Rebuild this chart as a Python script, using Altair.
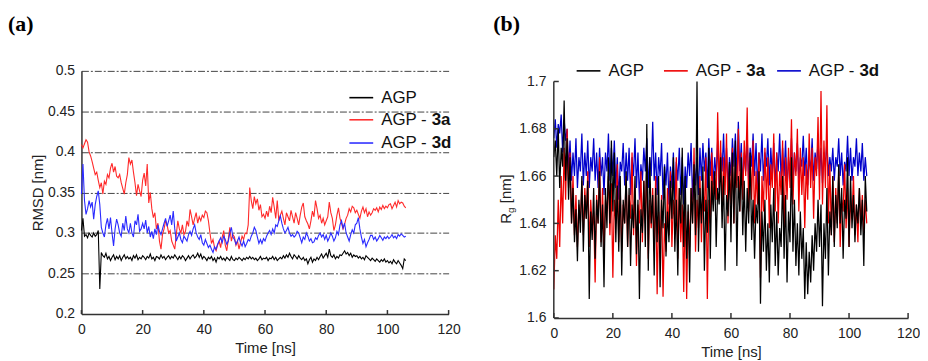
import altair as alt
import pandas as pd

time_step = 0.5

rmsd_3a = [
    .409, .405, .410, .415, .412, .400, .395, .388, .380, .372,
    .375, .365, .356, .362, .348, .364, .360, .372, .368, .380,
    .386, .375, .382, .370, .368, .372, .362, .355, .348, .362,
    .372, .393, .385, .390, .375, .362, .346, .360, .352, .345,
    .365, .374, .358, .385, .337, .350, .330, .319, .325, .305,
    .312, .290, .280, .298, .305, .315, .310, .300, .303, .290,
    .285, .280, .298, .315, .305, .300, .310, .298, .302, .315,
    .308, .329, .320, .310, .318, .325, .312, .320, .315, .322,
    .319, .327, .325, .315, .300, .287, .292, .282, .278, .285,
    .290, .282, .295, .303, .285, .278, .292, .307, .290, .298,
    .295, .285, .290, .280, .288, .296, .292, .300, .299, .310,
    .356, .340, .330, .345, .336, .342, .328, .335, .320, .323,
    .318, .327, .320, .333, .325, .344, .332, .318, .340, .315,
    .322, .327, .318, .310, .325, .320, .315, .328, .320, .312,
    .325, .318, .310, .322, .332, .337, .320, .315, .311, .305,
    .315, .327, .320, .340, .330, .318, .322, .312, .318, .310,
    .315, .320, .338, .325, .318, .303, .310, .322, .331, .318,
    .312, .305, .311, .318, .322, .330, .326, .333, .331, .325,
    .328, .323, .318, .327, .332, .325, .330, .320, .326, .322,
    .325, .330, .328, .331, .326, .332, .329, .334, .330, .333,
    .331, .335, .336, .330, .334, .338, .332, .340, .336, .338,
    .337, .333, .331,
]

rmsd_3d = [
    .348, .385, .340, .323, .330, .340, .332, .338, .317, .335,
    .345, .352, .335, .307, .300, .295, .310, .318, .305, .319,
    .300, .284, .305, .317, .310, .300, .296, .312, .303, .321,
    .305, .300, .312, .300, .295, .315, .310, .323, .302, .305,
    .312, .305, .316, .300, .308, .295, .302, .293, .305, .298,
    .310, .302, .298, .305, .312, .318, .308, .315, .322, .310,
    .327, .305, .290, .295, .300, .292, .288, .296, .293, .290,
    .298, .302, .297, .305, .310, .300, .295, .292, .298, .288,
    .285, .292, .287, .282, .285, .280, .276, .283, .280, .286,
    .290, .294, .288, .296, .292, .286, .290, .300, .307, .295,
    .292, .286, .290, .295, .288, .284, .290, .283, .287, .292,
    .290, .296, .300, .307, .303, .295, .287, .292, .287, .293,
    .290, .296, .300, .303, .298, .305, .300, .310, .308, .315,
    .321, .312, .305, .300, .303, .307, .300, .296, .298, .295,
    .297, .302, .300, .294, .288, .295, .292, .300, .296, .290,
    .293, .288, .289, .294, .292, .297, .300, .295, .298, .292,
    .297, .290, .294, .300, .296, .290, .294, .302, .298, .310,
    .315, .306, .312, .300, .295, .290, .298, .304, .300, .310,
    .312, .319, .305, .295, .287, .292, .283, .288, .292, .297,
    .297, .292, .295, .290, .293, .297, .294, .291, .295, .293,
    .296, .293, .295, .298, .294, .296, .293, .298, .296, .299,
    .297, .295, .296,
]

rmsd_agp = [
    .303, .318, .296, .298, .294, .300, .297, .295, .300, .296,
    .298, .303, .231, .276, .272, .270, .275, .268, .271, .266,
    .270, .273, .267, .271, .268, .272, .266, .270, .273, .268,
    .271, .268, .270, .266, .272, .269, .273, .267, .270, .268,
    .272, .270, .267, .271, .269, .274, .268, .270, .266, .271,
    .270, .268, .273, .269, .271, .267, .270, .272, .268, .271,
    .269, .273, .270, .267, .271, .268, .272, .270, .266, .269,
    .272, .268, .271, .273, .269, .271, .275, .270, .274, .268,
    .271, .269, .266, .270, .268, .271, .266, .269, .264, .270,
    .268, .271, .267, .269, .266, .270, .268, .266, .271, .267,
    .266, .269, .267, .270, .268, .266, .269, .267, .270, .268,
    .271, .268, .270, .267, .269, .266, .268, .271, .267, .269,
    .268, .270, .266, .269, .268, .271, .267, .270, .266, .268,
    .270, .268, .272, .269, .273, .270, .275, .271, .268, .273,
    .271, .268, .272, .269, .267, .270, .266, .268, .262, .267,
    .270, .264, .268, .266, .270, .267, .271, .274, .269, .272,
    .275, .270, .280, .272, .270, .273, .268, .271, .269, .273,
    .272, .275, .278, .274, .276, .272, .275, .270, .273, .271,
    .272, .269, .271, .268, .270, .267, .272, .270, .268, .266,
    .269, .267, .265, .268, .266, .264, .267, .265, .268, .264,
    .266, .263, .265, .262, .267, .264, .262, .266, .263, .260,
    .256, .268, .266,
]

rg_agp = [
    1.668, 1.675, 1.660, 1.680, 1.655, 1.672, 1.664, 1.692, 1.658, 1.676,
    1.650, 1.668, 1.640, 1.655, 1.632, 1.646, 1.624, 1.650, 1.636, 1.660,
    1.628, 1.652, 1.642, 1.658, 1.608, 1.645, 1.633, 1.655, 1.625, 1.650,
    1.640, 1.662, 1.630, 1.648, 1.613, 1.655, 1.638, 1.668, 1.640, 1.675,
    1.645, 1.670, 1.632, 1.656, 1.628, 1.660, 1.618, 1.650, 1.640, 1.662,
    1.630, 1.655, 1.622, 1.648, 1.638, 1.660, 1.627, 1.650, 1.608, 1.646,
    1.636, 1.658, 1.630, 1.682, 1.620, 1.668, 1.640, 1.652, 1.618, 1.655,
    1.632, 1.660, 1.613, 1.650, 1.638, 1.664, 1.626, 1.645, 1.632, 1.658,
    1.642, 1.668, 1.628, 1.650, 1.618, 1.655, 1.640, 1.672, 1.630, 1.660,
    1.625, 1.648, 1.615, 1.655, 1.640, 1.665, 1.635, 1.700, 1.628, 1.655,
    1.640, 1.664, 1.620, 1.650, 1.636, 1.672, 1.625, 1.658, 1.645, 1.662,
    1.630, 1.655, 1.648, 1.668, 1.638, 1.660, 1.620, 1.652, 1.643, 1.666,
    1.632, 1.670, 1.640, 1.675, 1.622, 1.660, 1.645, 1.668, 1.635, 1.658,
    1.628, 1.655, 1.640, 1.670, 1.633, 1.650, 1.625, 1.648, 1.640, 1.662,
    1.606, 1.645, 1.628, 1.650, 1.620, 1.640, 1.615, 1.648, 1.632, 1.655,
    1.622, 1.645, 1.618, 1.638, 1.630, 1.660, 1.625, 1.652, 1.615, 1.645,
    1.632, 1.668, 1.628, 1.650, 1.622, 1.640, 1.618, 1.645, 1.625, 1.638,
    1.608, 1.632, 1.610, 1.628, 1.615, 1.635, 1.620, 1.640, 1.628, 1.650,
    1.630, 1.648, 1.605, 1.640, 1.625, 1.655, 1.618, 1.645, 1.635, 1.660,
    1.630, 1.652, 1.638, 1.665, 1.640, 1.655, 1.625, 1.650, 1.642, 1.668,
    1.630, 1.660, 1.638, 1.652, 1.632, 1.648, 1.640, 1.655, 1.635, 1.650,
    1.622, 1.660, 1.645,
]

rg_3a = [
    1.612, 1.635, 1.625, 1.650, 1.630, 1.660, 1.640, 1.672, 1.650, 1.680,
    1.655, 1.670, 1.640, 1.660, 1.635, 1.652, 1.630, 1.648, 1.640, 1.658,
    1.635, 1.655, 1.642, 1.662, 1.630, 1.650, 1.638, 1.645, 1.615, 1.652,
    1.640, 1.668, 1.632, 1.655, 1.628, 1.650, 1.645, 1.660, 1.635, 1.657,
    1.617, 1.650, 1.640, 1.665, 1.632, 1.655, 1.628, 1.648, 1.640, 1.660,
    1.630, 1.652, 1.642, 1.670, 1.635, 1.655, 1.622, 1.648, 1.640, 1.662,
    1.632, 1.658, 1.640, 1.665, 1.625, 1.650, 1.638, 1.655, 1.628, 1.660,
    1.610, 1.645, 1.630, 1.652, 1.609, 1.640, 1.628, 1.655, 1.635, 1.662,
    1.630, 1.650, 1.640, 1.668, 1.625, 1.655, 1.632, 1.648, 1.611, 1.650,
    1.608, 1.645, 1.630, 1.655, 1.640, 1.672, 1.628, 1.650, 1.638, 1.660,
    1.632, 1.655, 1.645, 1.668, 1.608, 1.650, 1.640, 1.670, 1.648, 1.662,
    1.650, 1.687, 1.655, 1.675, 1.645, 1.668, 1.652, 1.678, 1.640, 1.665,
    1.648, 1.672, 1.640, 1.665, 1.655, 1.680, 1.645, 1.670, 1.650, 1.675,
    1.660, 1.689, 1.645, 1.668, 1.650, 1.675, 1.640, 1.662, 1.648, 1.670,
    1.617, 1.660, 1.645, 1.672, 1.650, 1.668, 1.638, 1.665, 1.655, 1.678,
    1.645, 1.670, 1.640, 1.662, 1.652, 1.675, 1.635, 1.668, 1.650, 1.672,
    1.655, 1.684, 1.648, 1.670, 1.660, 1.680, 1.645, 1.672, 1.652, 1.668,
    1.638, 1.665, 1.650, 1.678, 1.655, 1.672, 1.642, 1.668, 1.660, 1.685,
    1.650, 1.696, 1.648, 1.675, 1.655, 1.690, 1.640, 1.665, 1.635, 1.660,
    1.632, 1.655, 1.640, 1.662, 1.630, 1.650, 1.645, 1.665, 1.638, 1.655,
    1.630, 1.650, 1.642, 1.660, 1.635, 1.648, 1.632, 1.655, 1.640, 1.652,
    1.636, 1.650, 1.640,
]

rg_3d = [
    1.676, 1.684, 1.672, 1.682, 1.678, 1.686, 1.670, 1.684, 1.675, 1.680,
    1.662, 1.675, 1.658, 1.670, 1.660, 1.676, 1.655, 1.668, 1.662, 1.678,
    1.656, 1.670, 1.660, 1.675, 1.655, 1.668, 1.662, 1.676, 1.658, 1.670,
    1.655, 1.672, 1.660, 1.668, 1.652, 1.670, 1.662, 1.678, 1.658, 1.672,
    1.660, 1.675, 1.655, 1.668, 1.650, 1.666, 1.662, 1.674, 1.656, 1.670,
    1.658, 1.672, 1.652, 1.668, 1.660, 1.676, 1.655, 1.670, 1.650, 1.665,
    1.658, 1.672, 1.662, 1.676, 1.655, 1.668, 1.660, 1.683, 1.658, 1.670,
    1.652, 1.668, 1.660, 1.674, 1.650, 1.665, 1.656, 1.670, 1.648, 1.664,
    1.655, 1.670, 1.650, 1.666, 1.658, 1.672, 1.652, 1.668, 1.648, 1.664,
    1.655, 1.670, 1.660, 1.674, 1.650, 1.666, 1.656, 1.668, 1.652, 1.672,
    1.658, 1.674, 1.662, 1.670, 1.655, 1.676, 1.660, 1.672, 1.656, 1.668,
    1.660, 1.675, 1.654, 1.670, 1.662, 1.678, 1.658, 1.672, 1.655, 1.668,
    1.660, 1.676, 1.664, 1.678, 1.658, 1.683, 1.662, 1.674, 1.656, 1.670,
    1.662, 1.676, 1.658, 1.672, 1.664, 1.678, 1.660, 1.674, 1.655, 1.670,
    1.662, 1.678, 1.658, 1.670, 1.664, 1.676, 1.656, 1.672, 1.660, 1.674,
    1.655, 1.670, 1.662, 1.678, 1.658, 1.672, 1.660, 1.675, 1.654, 1.668,
    1.660, 1.676, 1.656, 1.670, 1.662, 1.674, 1.658, 1.668, 1.664, 1.677,
    1.660, 1.672, 1.656, 1.668, 1.662, 1.676, 1.658, 1.670, 1.663, 1.675,
    1.660, 1.672, 1.657, 1.670, 1.664, 1.675, 1.660, 1.668, 1.662, 1.672,
    1.658, 1.668, 1.664, 1.676, 1.660, 1.670, 1.656, 1.666, 1.662, 1.677,
    1.660, 1.672, 1.658, 1.668, 1.664, 1.676, 1.660, 1.670, 1.662, 1.674,
    1.658, 1.668, 1.660,
]

x_ticks = [0, 20, 40, 60, 80, 100, 120]
rmsd_ticks = [0.2, 0.25, 0.3, 0.35, 0.4, 0.45, 0.5]
rg_ticks = [1.6, 1.62, 1.64, 1.66, 1.68, 1.7]

# ---------------- styling ----------------
FONT = "Liberation Sans"
SERIF = "Liberation Serif"
W_A, H_A = 370, 245
W_B, H_B = 357, 249
RG_TOP = 1.6 + 0.1 * H_B / 238.3  # plot area extends a bit above 1.7 (legend lives there)
LABEL_SIZE = 14
TITLE_SIZE = 15


def frame(name, values):
    return pd.DataFrame({"Time": [i * time_step for i in range(len(values))], name: values})


one = pd.DataFrame({"k": [0]})

x_axis = alt.Axis(values=x_ticks, title="Time [ns]", grid=False, ticks=False, tickSize=0,
                  labelPadding=9, titlePadding=4, domainColor="#333", domainWidth=1.5,
                  labelFlush=False, labelOverlap=False)
x_scale = alt.Scale(domain=[0, 120], nice=False, zero=False)


def X():
    return alt.X("Time:Q", scale=x_scale, axis=x_axis)


y_axis_a = alt.Axis(values=rmsd_ticks, format=".2~f", title="RMSD [nm]", grid=True,
                    gridDash=[7, 2, 2, 2], gridColor="#444", gridWidth=1, gridOpacity=1,
                    ticks=False, tickSize=0, labelPadding=7, titlePadding=2,
                    domainColor="#333", domainWidth=1.5, labelOverlap=False)
y_scale_a = alt.Scale(domain=[0.2, 0.5], nice=False, zero=False)


def YA():
    return alt.Y("RMSD:Q", scale=y_scale_a, axis=y_axis_a)


y_axis_b = alt.Axis(values=rg_ticks, format=".2~f", title=None, grid=False, domain=False,
                    ticks=False, tickSize=0, labelPadding=8, labelOverlap=False)
y_scale_b = alt.Scale(domain=[1.6, RG_TOP], nice=False, zero=False)


def YB():
    return alt.Y("Rg:Q", scale=y_scale_b, axis=y_axis_b)


def legend_layers(xl, y, color, normal, bold=None):
    out = [
        alt.Chart(one).mark_rule(color=color, strokeWidth=1.6).encode(
            x=alt.value(xl), x2=alt.value(xl + 24), y=alt.value(y)),
        alt.Chart(one).mark_text(align="left", baseline="middle", font=FONT, fontSize=17,
                                 color="#111", text=normal).encode(
            x=alt.value(xl + 32), y=alt.value(y)),
    ]
    if bold:
        out.append(alt.Chart(one).mark_text(align="left", baseline="middle", font=FONT,
                                            fontSize=17, fontWeight="bold", color="#111",
                                            text=bold).encode(
            x=alt.value(xl + 32 + 51), y=alt.value(y)))
    return out


# ---------------- panel (a): RMSD ----------------
a_layers = [
    alt.Chart(frame("RMSD", rmsd_3a)).mark_line(color="#ff2a2a", strokeWidth=1.1).encode(x=X(), y=YA()),
    alt.Chart(frame("RMSD", rmsd_3d)).mark_line(color="#2a2aff", strokeWidth=1.1).encode(x=X(), y=YA()),
    alt.Chart(frame("RMSD", rmsd_agp)).mark_line(color="#000000", strokeWidth=1.1).encode(x=X(), y=YA()),
    alt.Chart(pd.DataFrame({"Time": x_ticks})).mark_rule(color="#333", strokeWidth=1.5).encode(
        x=X(), y=alt.value(H_A), y2=alt.value(H_A - 4)),
    alt.Chart(one).mark_text(align="left", baseline="middle", font=SERIF, fontSize=22,
                             fontWeight="bold", color="#000", text="(a)").encode(
        x=alt.value(-74), y=alt.value(-47)),
]
a_layers += legend_layers(270, 27, "#000000", "AGP")
a_layers += legend_layers(270, 49.3, "#ff3030", "AGP - ", "3a")
a_layers += legend_layers(270, 72.7, "#3030ff", "AGP - ", "3d")
panel_a = alt.layer(*a_layers).properties(width=W_A, height=H_A)

# ---------------- panel (b): Rg ----------------
b_layers = [
    alt.Chart(frame("Rg", rg_3d)).mark_line(color="#0000cc", strokeWidth=1.25).encode(x=X(), y=YB()),
    alt.Chart(frame("Rg", rg_3a)).mark_line(color="#ee0000", strokeWidth=1.25).encode(x=X(), y=YB()),
    alt.Chart(frame("Rg", rg_agp)).mark_line(color="#000000", strokeWidth=1.25).encode(x=X(), y=YB()),
    # y axis line from 1.6 to 1.7
    alt.Chart(pd.DataFrame({"Rg": [rg_ticks[0]], "Rg2": [rg_ticks[-1]]})).mark_rule(
        color="#333", strokeWidth=1.5).encode(x=alt.value(0), y=YB(), y2="Rg2:Q"),
    alt.Chart(pd.DataFrame({"Rg": rg_ticks})).mark_rule(color="#333", strokeWidth=1.5).encode(
        y=YB(), x=alt.value(0), x2=alt.value(5)),
    alt.Chart(pd.DataFrame({"Time": x_ticks})).mark_rule(color="#333", strokeWidth=1.5).encode(
        x=X(), y=alt.value(H_B), y2=alt.value(H_B - 5)),
    alt.Chart(one).mark_text(align="left", baseline="middle", font=SERIF, fontSize=22,
                             fontWeight="bold", color="#000", text="(b)").encode(
        x=alt.value(-61), y=alt.value(-47)),
    # y-axis title R_g [nm]
    alt.Chart(one).mark_text(align="left", baseline="alphabetic", angle=270, font=FONT,
                             fontSize=15, color="#222", text="R").encode(
        x=alt.value(-43), y=alt.value(154)),
    alt.Chart(one).mark_text(align="left", baseline="alphabetic", angle=270, font=FONT,
                             fontSize=10, color="#222", text="g").encode(
        x=alt.value(-40), y=alt.value(143.2)),
    alt.Chart(one).mark_text(align="left", baseline="alphabetic", angle=270, font=FONT,
                             fontSize=15, color="#222", text="[nm]").encode(
        x=alt.value(-43), y=alt.value(133.4)),
]
b_layers += legend_layers(23, 0, "#000000", "AGP")
b_layers += legend_layers(111, 0, "#ee0000", "AGP - ", "3a")
b_layers += legend_layers(225, 0, "#0000cc", "AGP - ", "3d")
panel_b = alt.layer(*b_layers).properties(width=W_B, height=H_B)

chart = alt.hconcat(panel_a, panel_b, spacing=33).properties(
    padding={"left": 0, "top": 4, "right": 0, "bottom": 0},
    background="white",
).configure_view(stroke=None).configure_axis(
    labelFont=FONT, titleFont=FONT, labelFontSize=LABEL_SIZE, titleFontSize=TITLE_SIZE,
    titleFontWeight="normal", labelColor="#222", titleColor="#222",
)

chart.save("out.html", embed_options={"renderer": "svg", "actions": False})
